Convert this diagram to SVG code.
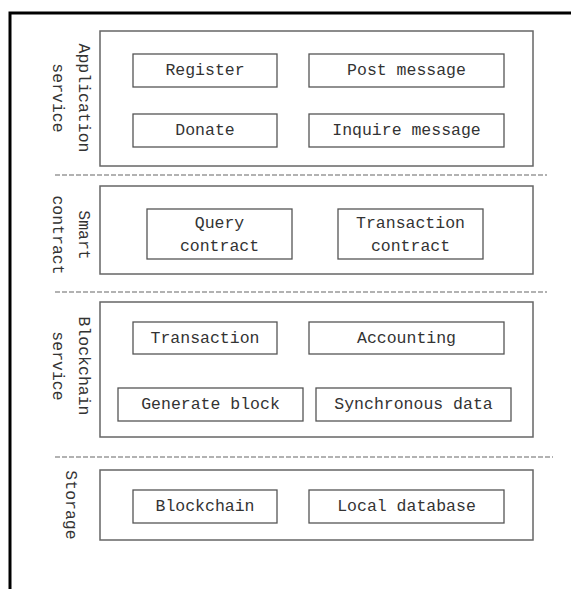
<svg xmlns="http://www.w3.org/2000/svg" width="571" height="589" viewBox="0 0 571 589">
<style>
.frame{fill:none;stroke:#000;stroke-width:3}
.layer{fill:none;stroke:#666;stroke-width:1.5}
.box{fill:#fff;stroke:#555;stroke-width:1.3}
.dash{stroke:#666;stroke-width:1.2;stroke-dasharray:5 2;fill:none}
text{font-family:"Liberation Mono","DejaVu Sans Mono",monospace;font-size:16.5px;fill:#333;text-anchor:middle;dominant-baseline:central}
</style>
<rect width="571" height="589" fill="#fff"/>
<path class="frame" d="M10,600 V13 H580"/>
<g id="connectors">
<line class="dash" x1="55" y1="175" x2="547" y2="175"/>
<line class="dash" x1="55" y1="292" x2="547" y2="292"/>
<line class="dash" x1="55" y1="457" x2="553" y2="457"/>
</g>
<g id="layer-application">
<rect class="layer" x="100" y="31" width="433" height="135"/>
<text transform="translate(83,98) rotate(90)">Application</text>
<text transform="translate(57,98) rotate(90)">service</text>
</g>
<g id="register"><rect class="box" x="133" y="54" width="144" height="33"/><text x="205" y="70.5">Register</text></g>
<g id="post-message"><rect class="box" x="309" y="54" width="195" height="33"/><text x="406.5" y="70.5">Post message</text></g>
<g id="donate"><rect class="box" x="133" y="114" width="144" height="33"/><text x="205" y="130.5">Donate</text></g>
<g id="inquire-message"><rect class="box" x="309" y="114" width="195" height="33"/><text x="406.5" y="130.5">Inquire message</text></g>
<g id="layer-smart-contract">
<rect class="layer" x="100" y="186" width="433" height="88"/>
<text transform="translate(83,235) rotate(90)">Smart</text>
<text transform="translate(57,235) rotate(90)">contract</text>
</g>
<g id="query-contract"><rect class="box" x="147" y="209" width="145" height="50"/><text x="219.5" y="223">Query</text><text x="219.5" y="246">contract</text></g>
<g id="transaction-contract"><rect class="box" x="338" y="209" width="145" height="50"/><text x="410.5" y="223">Transaction</text><text x="410.5" y="246">contract</text></g>
<g id="layer-blockchain-service">
<rect class="layer" x="100" y="302" width="433" height="135"/>
<text transform="translate(83,366) rotate(90)">Blockchain</text>
<text transform="translate(57,366) rotate(90)">service</text>
</g>
<g id="transaction"><rect class="box" x="133" y="322" width="144" height="32"/><text x="205" y="338">Transaction</text></g>
<g id="accounting"><rect class="box" x="309" y="322" width="195" height="32"/><text x="406.5" y="338">Accounting</text></g>
<g id="generate-block"><rect class="box" x="118" y="388" width="185" height="33"/><text x="210.5" y="404.5">Generate block</text></g>
<g id="synchronous-data"><rect class="box" x="316" y="388" width="195" height="33"/><text x="413.5" y="404.5">Synchronous data</text></g>
<g id="layer-storage">
<rect class="layer" x="100" y="470" width="433" height="70"/>
<text transform="translate(70,505) rotate(90)">Storage</text>
</g>
<g id="blockchain"><rect class="box" x="133" y="490" width="144" height="33"/><text x="205" y="506.5">Blockchain</text></g>
<g id="local-database"><rect class="box" x="309" y="490" width="195" height="33"/><text x="406.5" y="506.5">Local database</text></g>
</svg>
